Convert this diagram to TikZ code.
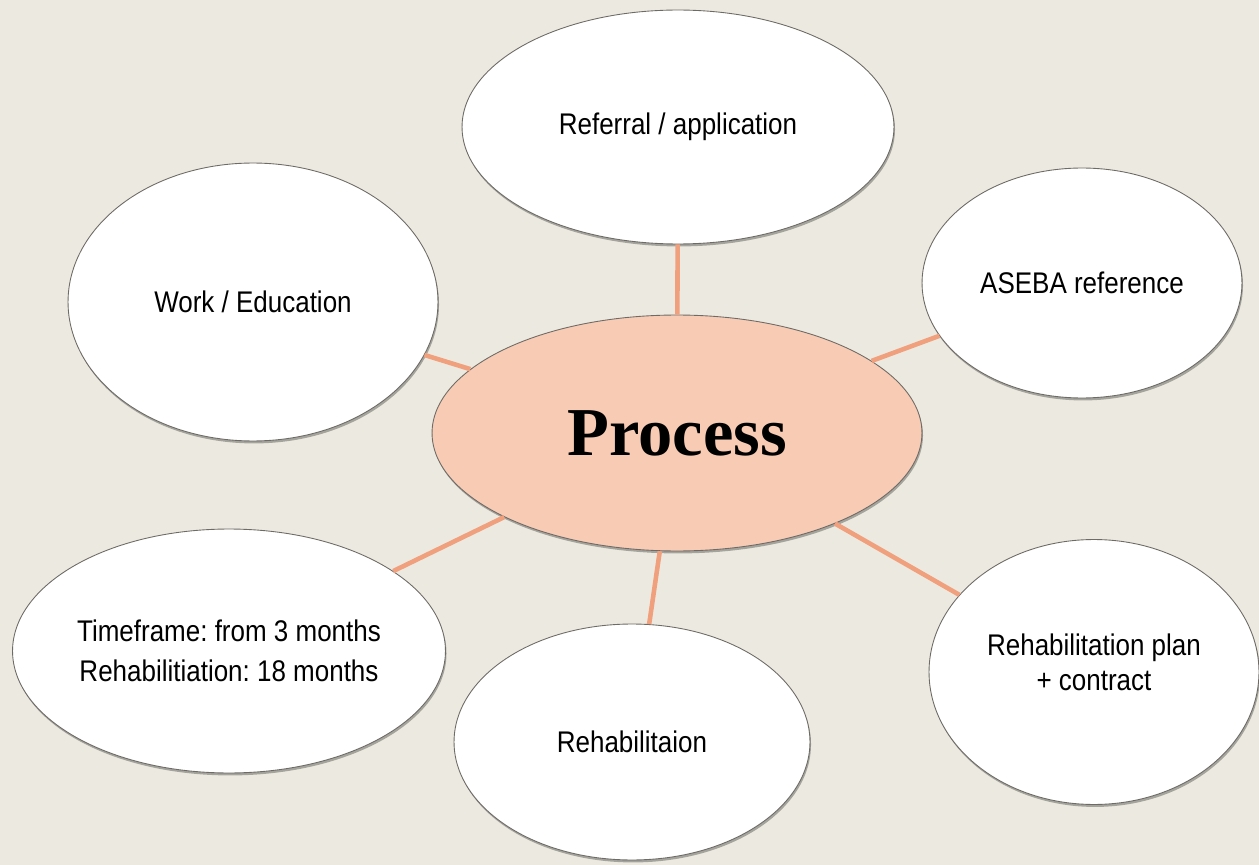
\documentclass[tikz,border=0pt]{standalone}
\usepackage{fontspec}
\setmainfont{Liberation Sans}[FakeStretch=0.87]
\newfontfamily\hubfont{Liberation Serif}
\usepackage{xcolor}
\usepackage{tikz}
\usetikzlibrary{shapes.geometric,shadows}
\frenchspacing

\definecolor{paper}{HTML}{ECEAE0}
\definecolor{hubfill}{HTML}{F8CBB4}
\definecolor{spoke}{HTML}{F0A07D}
\definecolor{rim}{HTML}{6E6A66}

\begin{document}
\begin{tikzpicture}[
    x=0.02cm, y=-0.02cm,
    font=\fontsize{17}{20}\selectfont,
    bubble/.style={ellipse, draw=rim, line width=0.5pt, fill=white,
                   inner sep=0pt, align=center,
                   drop shadow={shadow xshift=0.6pt, shadow yshift=-1.4pt,
                                opacity=0.3, fill=black}},
    hub/.style={bubble, fill=hubfill, minimum width=9.8cm, minimum height=4.72cm,
                font=\hubfont\bfseries\fontsize{39}{44}\selectfont},
    link/.style={draw=spoke, line width=2.6pt},
  ]
    % --- page ---
    \fill[paper] (0,0) rectangle (1259,865);
    \useasboundingbox (0,0) rectangle (1259,865);

    % --- hub ---
    \node[hub] (proc) at (677,433) {Process};

    % --- surrounding steps ---
    \node[bubble, minimum width=8.64cm, minimum height=4.68cm] (ref) at (678,127)
      {Referral / application};
    \node[bubble, minimum width=6.4cm, minimum height=4.6cm] (aseba) at (1082,283)
      {ASEBA reference};
    \node[bubble, minimum width=6.6cm, minimum height=5.3cm, text depth=0.38cm]
      (plan) at (1094,672) {Rehabilitation plan\\+ contract};
    \node[bubble, minimum width=7.12cm, minimum height=4.72cm] (rehab) at (632,742)
      {Rehabilitaion};
    \node[bubble, minimum width=8.66cm, minimum height=4.88cm] (time) at (229,651)
      {Timeframe: from 3 months\\[3pt]Rehabilitiation: 18 months};
    \node[bubble, minimum width=7.4cm, minimum height=5.56cm] (work) at (253,302)
      {Work / Education};

    % --- spokes ---
    \foreach \n in {ref,aseba,plan,rehab,time,work}
      \draw[link] (proc) -- (\n);
  \end{tikzpicture}
\end{document}
